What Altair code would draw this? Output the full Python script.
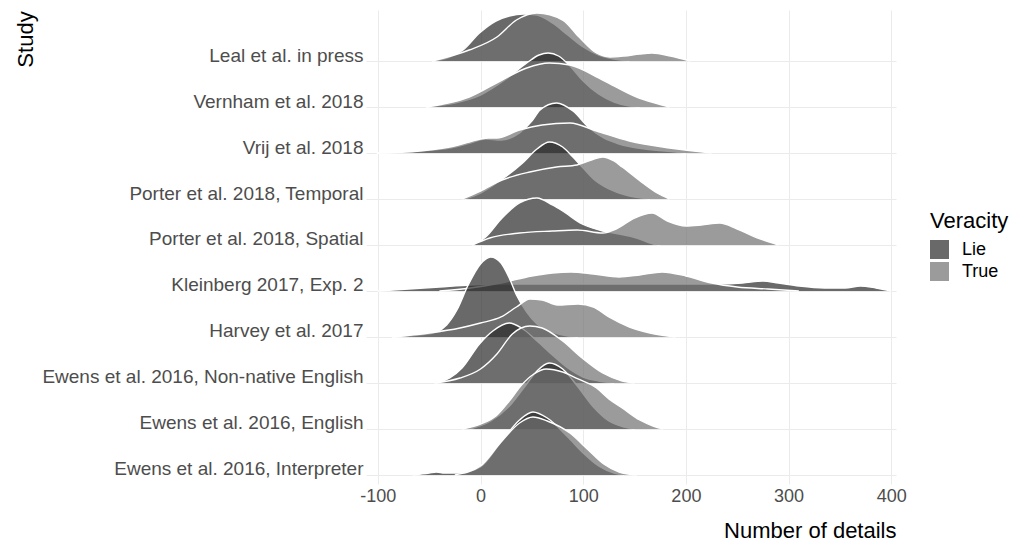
import altair as alt
import pandas as pd

# ---- categories (top to bottom) ----
studies = [
    "Leal et al. in press",
    "Vernham et al. 2018",
    "Vrij et al. 2018",
    "Porter et al. 2018, Temporal",
    "Porter et al. 2018, Spatial",
    "Kleinberg 2017, Exp. 2",
    "Harvey et al. 2017",
    "Ewens et al. 2016, Non-native English",
    "Ewens et al. 2016, English",
    "Ewens et al. 2016, Interpreter",
]
veracity = ["Lie", "True"]
x_ticks = [-100, 0, 100, 200, 300, 400]

# ---- density curves: (number of details, ridge height) ----
leal_lie = [(-47, 0), (-30, 4), (-17, 11), (-1, 28), (15, 40), (28, 45), (42, 47), (55, 46), (70, 38),
            (85, 26), (100, 14), (115, 6), (130, 2), (145, 0)]
leal_true = [(-47, 0), (-11, 11), (16, 24), (35, 41), (55, 48), (80, 41), (96, 24), (113, 8), (126, 4),
             (140, 5), (155, 7), (167, 8), (185, 5), (204, 0)]
vernham_lie = [(-53, 0), (-25, 4), (0, 12), (25, 28), (45, 44), (57, 52), (66, 54), (76, 51), (88, 40),
               (100, 26), (115, 13), (130, 5), (145, 1), (155, 0)]
vernham_true = [(-53, 0), (-11, 10), (21, 27), (45, 39), (67, 44), (87, 42), (119, 27), (152, 10),
                (170, 4), (184, 0)]
vrij_lie = [(-101, 0), (-60, 2), (-30, 5), (-10, 10), (5, 14), (20, 13), (38, 20), (50, 32), (58, 43),
            (74, 50), (90, 42), (106, 25), (120, 15), (135, 9), (160, 4), (190, 1), (200, 0)]
vrij_true = [(-101, 0), (-59, 2), (-30, 6), (-11, 11), (0, 14), (8, 15), (16, 15), (38, 23), (60, 28),
             (87, 30), (113, 22), (145, 12), (184, 5), (225, 0)]
porter_t_lie = [(-15, 0), (0, 6), (20, 19), (41, 36), (55, 50), (67, 57), (80, 52), (90, 42), (99, 32),
                (110, 20), (125, 10), (145, 3), (165, 0)]
porter_t_true = [(-18, 0), (0, 8), (21, 19), (48, 27), (74, 32), (94, 34), (108, 39), (119, 42), (130, 38),
                 (138, 32), (158, 16), (172, 6), (184, 0)]
porter_s_lie = [(-8, 0), (5, 8), (21, 27), (38, 42), (55, 47), (70, 40), (80, 34), (99, 21), (119, 14),
                (135, 11), (152, 7), (168, 1), (175, 0)]
porter_s_true = [(-8, 0), (9, 7), (38, 12), (70, 14), (94, 15), (119, 12), (132, 16), (150, 27), (167, 32),
                 (182, 24), (200, 19), (215, 20), (233, 22), (250, 16), (270, 7), (290, 0)]
kleinberg_lie = [(-100, 0), (-70, 2), (-40, 4), (-10, 6), (30, 7), (80, 7), (130, 7), (180, 7), (230, 7),
                 (255, 8), (275, 10), (290, 8), (310, 5), (335, 3), (355, 3), (370, 5), (385, 3), (400, 0)]
kleinberg_true = [(-40, 0), (-10, 3), (20, 8), (50, 15), (70, 18), (88, 19), (110, 17), (135, 14),
                  (155, 16), (177, 19), (200, 15), (225, 8), (250, 4), (280, 2), (310, 0)]
harvey_lie = [(-86, 0), (-60, 2), (-43, 5), (-33, 12), (-23, 27), (-12, 52), (0, 73), (10, 80), (20, 74),
              (28, 59), (35, 42), (45, 25), (55, 13), (70, 5), (85, 1), (95, 0)]
harvey_true = [(-86, 0), (-50, 4), (-20, 9), (0, 14), (20, 20), (35, 30), (48, 38), (60, 37), (75, 32),
               (95, 33), (110, 30), (125, 20), (145, 10), (165, 4), (190, 0)]
ewens_nn_lie = [(-43, 0), (-30, 5), (-18, 15), (-1, 39), (12, 52), (28, 60), (40, 55), (55, 42), (70, 28),
                (85, 15), (100, 6), (115, 2), (130, 0)]
ewens_nn_true = [(-45, 0), (-20, 5), (0, 14), (16, 29), (31, 49), (48, 57), (60, 55), (80, 42), (99, 25),
                 (119, 10), (138, 2), (150, 0)]
ewens_en_lie = [(-10, 0), (10, 8), (30, 25), (45, 45), (55, 58), (67, 66), (80, 60), (95, 42), (110, 22),
                (125, 8), (140, 2), (150, 0)]
ewens_en_true = [(-18, 0), (0, 5), (15, 13), (28, 28), (40, 44), (52, 55), (64, 60), (80, 57), (95, 50),
                 (113, 41), (125, 30), (138, 21), (155, 9), (168, 3), (178, 0)]
ewens_in_lie = [(-66, 0), (-50, 2), (-43, 3), (-35, 2), (-20, 2), (0, 8), (20, 33), (38, 55), (51, 63),
                (65, 57), (85, 38), (100, 22), (115, 9), (130, 2), (140, 0)]
ewens_in_true = [(-25, 0), (0, 9), (20, 33), (38, 52), (51, 58), (65, 54), (87, 42), (105, 25), (120, 11),
                 (135, 3), (152, 0)]

curves = [
    (leal_lie, leal_true), (vernham_lie, vernham_true), (vrij_lie, vrij_true),
    (porter_t_lie, porter_t_true), (porter_s_lie, porter_s_true),
    (kleinberg_lie, kleinberg_true), (harvey_lie, harvey_true),
    (ewens_nn_lie, ewens_nn_true), (ewens_en_lie, ewens_en_true), (ewens_in_lie, ewens_in_true),
]

RIDGE_SCALE = 46.0  # density height units per row spacing

records = []
for pos, (study, pair) in enumerate(zip(studies, curves)):
    base = len(studies) - 1 - pos
    for v, pts in zip(veracity, pair):
        for x, h in pts:
            records.append({"Study": study, "Veracity": v, "key": f"k{pos}{v}",
                            "x": x, "y": base + h / RIDGE_SCALE, "y0": float(base)})
df = pd.DataFrame(records)

label_array = "[" + ",".join("'" + s + "'" for s in reversed(studies)) + "]"

FONT = "Liberation Sans"
PW, PH = 530, 474

x_scale = alt.Scale(domain=[-111.5, 404.6], nice=False, zero=False)
y_scale = alt.Scale(domain=[-0.196, 10.109], nice=False, zero=False)

x_axis = alt.Axis(values=x_ticks, title="Number of details", grid=True,
                  gridColor="#ebebeb", gridWidth=1, domain=False, ticks=False,
                  labelExpr="datum.value + ''", labelFontSize=18, labelColor="#4d4d4d",
                  labelPadding=3, labelFont=FONT,
                  titleFontSize=22, titleFontWeight="normal", titleFont=FONT,
                  titleColor="#000000", titleAlign="right", titleX=PW, titleY=46,
                  titleBaseline="middle")
y_axis = alt.Axis(values=list(range(10)), title="Study", grid=True,
                  gridColor="#ebebeb", gridWidth=1, domain=False, ticks=False,
                  labelExpr=label_array + "[datum.value]", labelFontSize=19,
                  labelColor="#4d4d4d", labelPadding=3, labelLimit=500,
                  labelBaseline="alphabetic", labelFont=FONT,
                  titleFontSize=22, titleFontWeight="normal", titleFont=FONT,
                  titleColor="#000000", titleAngle=270, titleX=-341, titleY=29,
                  titleAlign="center", titleBaseline="middle")

color_enc = alt.Color("Veracity:N",
                      scale=alt.Scale(domain=veracity, range=["#2a2a2a", "#707070"]),
                      legend=alt.Legend(title="Veracity", orient="none", legendX=564, legendY=201,
                                        titleFontSize=22, titleFontWeight="normal", titleFont=FONT,
                                        titleColor="#000000", titlePadding=7,
                                        labelFontSize=18, labelFont=FONT, labelColor="#000000",
                                        labelOffset=13, symbolType="square", symbolSize=361,
                                        symbolOpacity=0.7, symbolStrokeWidth=0, rowPadding=3))

xe = alt.X("x:Q", scale=x_scale, axis=x_axis)
ye = alt.Y("y:Q", scale=y_scale, axis=y_axis)

layers = []
for pos in range(len(studies)):
    for v in veracity:
        k = f"k{pos}{v}"
        sub = df[df["key"] == k]
        area = alt.Chart(sub).mark_area(opacity=0.7, interpolate="monotone").encode(
            x=xe, y=ye, y2=alt.Y2("y0:Q"), color=color_enc)
        line = alt.Chart(sub).mark_line(color="white", strokeWidth=1.4, interpolate="monotone").encode(
            x=xe, y=ye)
        layers += [area, line]

chart = alt.layer(*layers).properties(
    width=PW, height=PH,
    autosize=alt.AutoSizeParams(type="none"),
    padding={"left": 358, "top": 2, "right": 120, "bottom": 60},
).configure(font=FONT, view=alt.ViewConfig(strokeWidth=0))

chart.save("out.html", embed_options={"renderer": "svg", "actions": False})
